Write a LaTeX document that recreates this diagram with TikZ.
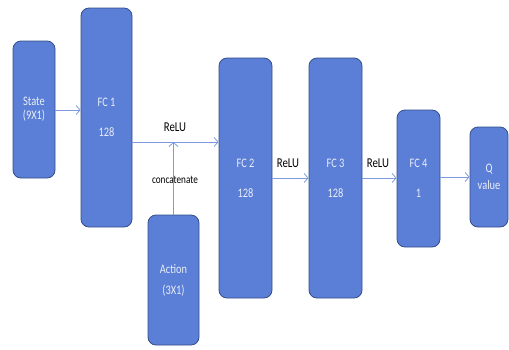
\documentclass[tikz,border=0pt]{standalone}
\usepackage{fontspec}
\setmainfont{Carlito}[FakeStretch=0.8]
\usetikzlibrary{arrows.meta}
\definecolor{boxfill}{RGB}{91,126,214}
\definecolor{boxdraw}{RGB}{52,78,140}
\definecolor{boxtext}{RGB}{232,238,250}
\definecolor{arrowc}{RGB}{125,155,222}
\tikzset{
  layer/.style={draw=boxdraw, fill=boxfill, line width=0.8pt, rounded corners=8pt,
    inner sep=0pt, align=center, text=boxtext, font=\fontsize{13}{14}\selectfont},
  arr/.style={draw=arrowc, line width=0.8pt, -{Straight Barb[length=4pt,width=9pt]}},
  lbl/.style={text=black, font=\fontsize{13.5}{15}\selectfont, inner sep=0pt},
  small/.style={text=black, font=\fontsize{11.5}{13}\selectfont, inner sep=0pt}
}
\begin{document}
\begin{tikzpicture}[x=1pt,y=-1pt]
\useasboundingbox (0,0) rectangle (509,349);
\node[layer, minimum width=42pt, minimum height=137pt] (state) at (34,109.5) {State\\(9X1)};
\node[layer, minimum width=51pt, minimum height=219pt] (fc1) at (106.5,117.5) {FC 1\\[16pt]128};
\node[layer, minimum width=51pt, minimum height=130pt] (action) at (173.5,280) {Action\\[7pt](3X1)};
\node[layer, minimum width=53pt, minimum height=240pt] (fc2) at (245.5,178) {FC 2\\[16pt]128};
\node[layer, minimum width=53pt, minimum height=240pt] (fc3) at (335.5,178) {FC 3\\[16pt]128};
\node[layer, minimum width=43pt, minimum height=137pt] (fc4) at (418.5,178.5) {FC 4\\[16pt]1};
\node[layer, minimum width=38pt, minimum height=100pt] (q) at (489,177) {Q\\[3pt]value};
\coordinate (cat) at (173.5,142);
\node[lbl] (relu1) at (175,127) {ReLU};
\node[lbl] (relu2) at (288,163) {ReLU};
\node[lbl] (relu3) at (378,163) {ReLU};
\node[small] (concat) at (175,180) {concatenate};
\draw[arr] (state.east |- 0,110) -- (fc1.west |- 0,110);
\draw[arr] (fc1.east |- cat) -- (fc2.west |- cat);
\draw[arr] (action.north) -- (cat);
\draw[arr] (fc2.east |- 0,178) -- (fc3.west |- 0,178);
\draw[arr] (fc3.east |- 0,178) -- (fc4.west |- 0,178);
\draw[arr] (fc4.east |- 0,177) -- (q.west |- 0,177);
\end{tikzpicture}
\end{document}
